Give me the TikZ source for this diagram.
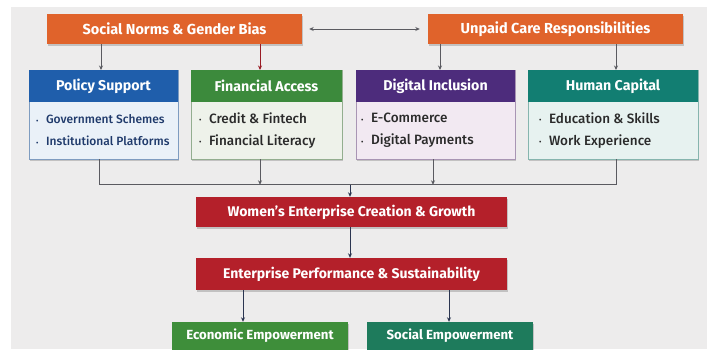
\documentclass[tikz,border=0pt]{standalone}
\usepackage{fontspec}
\setmainfont{Fira Sans}
\IfFontExistsTF{Fira Sans Medium}
  {\newfontfamily\itemfont{Fira Sans Medium}}
  {\newfontfamily\itemfont{Fira Sans}}
\usetikzlibrary{arrows.meta,shadows,calc}

\definecolor{pagegray}{HTML}{EDECEC}
\definecolor{orangebox}{HTML}{E0632B}
\definecolor{bluehead}{HTML}{1F5EAB}
\definecolor{bluebody}{HTML}{EAF1F8}
\definecolor{blueline}{HTML}{7E9CC0}
\definecolor{greenhead}{HTML}{3C8A3C}
\definecolor{greenbody}{HTML}{EEF2EA}
\definecolor{greenline}{HTML}{93AE8F}
\definecolor{purplehead}{HTML}{4D2C7C}
\definecolor{purplebody}{HTML}{F2E9F2}
\definecolor{purpleline}{HTML}{A995B4}
\definecolor{tealhead}{HTML}{127E72}
\definecolor{tealbody}{HTML}{E7F2F0}
\definecolor{tealline}{HTML}{86B5AE}
\definecolor{redbox}{HTML}{B4202A}
\definecolor{econgreen}{HTML}{3E8E3A}
\definecolor{socgreen}{HTML}{1E7B5C}
\definecolor{linkgray}{HTML}{5A5A60}
\definecolor{linknavy}{HTML}{2B3550}
\definecolor{textnavy}{HTML}{1F3A6B}
\definecolor{textdark}{HTML}{2A2A2A}

% small list bullet
\newcommand{\itm}{{\fontsize{7}{7}\selectfont\raisebox{0.6pt}{•}}\hspace{7.5pt}}

\tikzset{
  shade/.style={drop shadow={shadow xshift=1pt,shadow yshift=-1.5pt,opacity=0.18,fill=black}},
  topbox/.style={shade,fill=orangebox,text=white,font=\bfseries\fontsize{14.5}{16}\selectfont,
    minimum width=255pt,minimum height=30pt,inner sep=0pt},
  headbox/.style={fill=#1,text=white,font=\bfseries\fontsize{14.2}{16}\selectfont,
    minimum height=32pt,inner sep=0pt,anchor=north},
  bodybox/.style={shade,fill=#1,minimum height=89pt,inner sep=0pt,anchor=north},
  itemlist/.style={align=left,anchor=west,inner sep=0pt},
  thinitems/.style={itemlist,text=textnavy,font=\itemfont\fontsize{12}{22}\selectfont},
  thickitems/.style={itemlist,text=textdark,font=\itemfont\fontsize{13.5}{22}\selectfont},
  flowbox/.style={shade,fill=redbox,text=white,font=\bfseries\fontsize{14}{16}\selectfont,
    minimum width=311pt,inner sep=0pt},
  outbox/.style={shade,fill=#1,text=white,font=\bfseries\fontsize{13.2}{15}\selectfont,
    minimum height=38pt,inner sep=0pt,text depth=0pt},
  link/.style={draw=linkgray,line width=0.8pt},
  arr/.style={link,-{Stealth[length=4.5pt,width=4pt]}},
  navyarr/.style={draw=linknavy,line width=0.9pt,-{Stealth[length=4.5pt,width=4pt]}}
}

\begin{document}
\begin{tikzpicture}[x=1pt,y=-1pt]
  \useasboundingbox (0,0) rectangle (707,349);
  \clip (0,0) rectangle (707,349);
  \fill[white] (0,0) rectangle (707,349);
  \fill[pagegray] (11,7) rectangle (707,349);

  % barriers
  \node[topbox] (sn) at (174.5,29) {Social Norms \& Gender Bias};
  \node[topbox] (uc) at (555.5,29) {Unpaid Care Responsibilities};
  \draw[link,{Stealth[length=4.5pt,width=4pt]}-{Stealth[length=4.5pt,width=4pt]}]
    ([xshift=7pt]sn.east) -- ([xshift=-8pt]uc.west);

  % enabling factors: body panel with a coloured header strip
  \node[bodybox=bluebody,draw=blueline,minimum width=149pt] (ps) at (103.5,70) {};
  \node[headbox=bluehead,minimum width=149pt] (psh) at (ps.north) {Policy Support};
  \node[thinitems] (psi) at (36,130.5)
    {\itm Government Schemes\\ \itm Institutional Platforms};

  \node[bodybox=greenbody,draw=greenline,minimum width=151pt] (fa) at (266.5,70) {};
  \node[headbox=greenhead,minimum width=151pt] (fah) at (fa.north) {Financial Access};
  \node[thickitems] (fai) at (199,130.5)
    {\itm Credit \& Fintech\\ \itm Financial Literacy};

  \node[bodybox=purplebody,draw=purpleline,minimum width=159pt] (di) at (435.5,70) {};
  \node[headbox=purplehead,minimum width=159pt] (dih) at (di.north) {Digital Inclusion};
  \node[thickitems] (dii) at (361,130.5)
    {\itm E-Commerce\\ \itm Digital Payments};

  \node[bodybox=tealbody,draw=tealline,minimum width=170pt] (hc) at (613,70) {};
  \node[headbox=tealhead,minimum width=170pt] (hch) at (hc.north) {Human Capital};
  \node[thickitems] (hci) at (539,130.5)
    {\itm Education \& Skills\\ \itm Work Experience};

  % barriers acting on the factors
  \draw[arr] ([xshift=-2.5pt]ps.north |- sn.south) -- ([xshift=-2.5pt]ps.north);
  \draw[arr,draw=redbox!85!black] ([xshift=-6.5pt]fa.north |- sn.south) -- ([xshift=-6.5pt]fa.north);
  \draw[arr] ([xshift=4.5pt]di.north |- uc.south) -- ([xshift=4.5pt]di.north);
  \draw[arr] ([xshift=3pt]hc.north |- uc.south) -- ([xshift=3pt]hc.north);

  % outcomes chain
  \node[flowbox,minimum height=30pt] (wec) at (351.5,212) {Women's Enterprise Creation \& Growth};
  \node[flowbox,minimum height=32pt] (eps) at (351.5,274) {Enterprise Performance \& Sustainability};
  \node[outbox=econgreen,minimum width=176pt,text depth=14pt] (ee) at (260,341) {Economic Empowerment};
  \node[outbox=socgreen,minimum width=166pt,text depth=14pt] (se) at (450,341) {Social Empowerment};

  % collector bus feeding enterprise creation
  \coordinate (bus) at ($(wec.north)+(0,-12)$);
  \draw[link] ([xshift=-4.5pt]ps.south) |- (bus -| hc.south) -- ([xshift=3pt]hc.south |- bus)
    -- ([xshift=3pt]hc.south);
  \draw[arr] ([xshift=-6.5pt]fa.south) -- ([xshift=-6.5pt]fa.south |- bus);
  \draw[arr] ([xshift=-2.5pt]di.south) -- ([xshift=-2.5pt]di.south |- bus);
  \draw[navyarr] ([xshift=-1.5pt]bus) -- ([xshift=-1.5pt]wec.north);

  \draw[navyarr] ([xshift=-1.5pt]wec.south) -- ([xshift=-1.5pt]eps.south |- eps.north);
  \draw[navyarr] ([xshift=-17pt]ee.north |- eps.south) -- ([xshift=-17pt]ee.north);
  \draw[navyarr] ([xshift=-1pt]se.north |- eps.south) -- ([xshift=-1pt]se.north);
\end{tikzpicture}
\end{document}
